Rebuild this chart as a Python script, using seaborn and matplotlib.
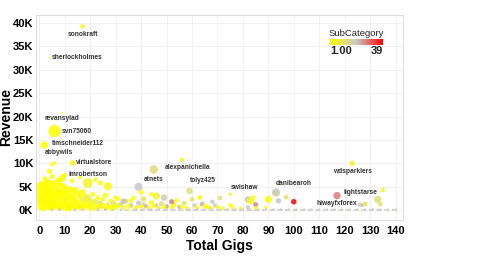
import pandas as pd
import matplotlib
matplotlib.use('Agg')
import matplotlib.pyplot as plt
import seaborn as sns
from matplotlib.colors import LinearSegmentedColormap, Normalize
from matplotlib.cm import ScalarMappable

# labelled sellers
label_names = ['sonokraft', 'sherlockholmes', 'revansylad', 'svn75060', 'timschneider112',
               'abbywils', 'virtualstore', 'imrobertson', 'alexpanichella', 'atnets',
               'tolyz425', 'swishaw', 'danibearoh', 'wdsparklers', 'lightstarse', 'hiwayfxforex']
label_gigs = [17, 4, 9, 6, 2, 6, 13, 9, 56, 45, 59, 75, 93, 123, 135, 127]
label_rev = [39300, 32600, 20800, 16900, 13900, 10100, 10100, 6800, 10800, 8700,
             4100, 3400, 3600, 10000, 4300, 1100]
label_size = [10, 2, 2, 80, 30, 6, 16, 30, 10, 38, 22, 6, 22, 16, 10, 6]
label_sub = [3, 2, 1, 1, 1, 1, 2, 3, 5, 13, 12, 4, 2, 5, 3, 22]

# unlabelled sellers
other_gigs = [0, 0, 0, 0, 0, 0, 1, 1, 1, 1, 1, 1, 1, 2, 2, 2, 2, 2, 2,
              3, 3, 3, 3, 3, 3, 4, 4, 4, 4, 4, 4, 5, 5, 5, 5, 5, 5,
              6, 6, 6, 6, 6, 7, 7, 7, 7, 7, 8, 8, 8, 8, 8, 9, 9, 9, 9,
              10, 10, 10, 10, 11, 11, 11, 12, 12, 12, 12,
              13, 13, 14, 14, 14, 15, 15, 16, 16, 17, 17, 18, 18,
              19, 20, 20, 21, 22, 23, 24, 25, 26, 27, 28, 29, 30, 31, 32,
              34, 36, 37, 39, 41, 42, 44, 46, 48, 50, 53, 55, 57, 61, 64, 66, 69,
              4, 19, 24, 27, 39, 40, 46, 49, 54, 63, 68, 75, 71, 30, 33, 52, 60, 44, 41, 36,
              82, 83, 84, 85, 82, 85, 79, 90, 89, 94, 97, 93, 100, 117, 128, 133, 134, 126,
              10, 13, 16, 22, 5,
              0, 1, 2, 3, 4, 6, 8, 9, 2, 5,
              10, 11, 12, 13, 14, 15, 16, 17, 18, 19, 20, 21, 22, 23, 24, 25, 26, 27, 28, 29,
              30, 31, 33, 35, 38, 40, 43, 45, 47, 49, 52, 56, 58, 62, 65, 67, 70, 72, 76,
              2, 5, 8, 11, 14, 17, 20, 23, 26, 29, 32, 35, 38, 41, 44, 47, 50, 53, 56, 59,
              62, 65, 68, 71, 74, 77, 80, 83, 86, 89, 92, 95, 98, 101, 104, 107, 110, 113,
              116, 119, 122, 125, 128, 131, 134, 137, 140,
              34, 37, 40, 43, 46, 49, 52, 55, 58, 61, 64, 67, 70, 73, 76, 79, 82, 85, 88,
              91, 94, 97, 100, 103, 106, 109, 112, 115, 118, 121, 124, 127, 130, 133, 136, 139]
other_rev = [4800, 3900, 3100, 2200, 1400, 600, 5000, 4200, 3300, 2600, 1800, 900, 300,
             4600, 3800, 2900, 2000, 1200, 500,
             5200, 4100, 3400, 2400, 1500, 700, 4500, 3600, 2800, 1900, 1000, 400,
             5500, 4000, 3000, 2100, 1300, 600,
             4700, 3500, 2500, 1600, 800, 6100, 4300, 3200, 2200, 1100,
             5400, 3700, 2600, 1400, 500, 4100, 2900, 1800, 700,
             4900, 3300, 2000, 1000, 3800, 2400, 1300, 4400, 2800, 1600, 600,
             3100, 1900, 4200, 2500, 1200, 3600, 1700, 2900, 1000, 3800, 2200, 1500, 3000,
             2600, 1200, 2000, 3400, 1800, 2700, 1400, 2300, 3200, 1100, 2000, 1600, 900, 2400, 1300,
             1900, 1000, 2600, 1500, 1200, 800, 1600, 1000, 1400, 800, 1200, 700, 1500, 1000, 1300, 700, 1000,
             8300, 5800, 5800, 5100, 5000, 3800, 3000, 2700, 2100, 2700, 1800, 1100, 2600, 2700, 1900, 1800, 2300, 3400, 2400, 2000,
             2300, 2000, 2700, 1200, 600, 400, 400, 2300, 600, 2000, 2800, 3800, 1800, 3100, 1300, 2300, 1300, 1100,
             7500, 6300, 7000, 6500, 9800,
             5300, 5800, 5600, 6300, 5900, 5800, 6500, 5200, 6800, 7200,
             400, 800, 300, 900, 500, 800, 400, 1000, 600, 900, 500, 1100, 400, 900, 600, 1200, 500, 800, 400, 900,
             500, 1000, 600, 900, 500, 800, 600, 900, 500, 700, 600, 800, 500, 600, 900, 500, 700, 400, 600,
             100, 80, 120, 90, 100, 110, 80, 100, 120, 90, 100, 80, 110, 100, 90, 120, 100, 80, 110, 100,
             90, 100, 120, 80, 100, 110, 90, 100, 80, 120, 100, 90, 110, 100, 80, 100, 120, 90,
             100, 110, 80, 100, 90, 120, 100, 80, 100,
             60, 50, 70, 60, 50, 60, 70, 50, 60, 60, 50, 70, 60, 50, 60, 70, 50, 60, 60,
             50, 70, 60, 50, 60, 70, 50, 60, 60, 50, 70, 60, 50, 60, 70, 50, 60]
other_size = [12, 20, 16, 24, 12, 10, 16, 24, 12, 28, 16, 20, 10, 20, 12, 30, 20, 12, 16,
              12, 28, 16, 20, 24, 12, 16, 24, 12, 28, 16, 12, 20, 16, 24, 12, 20, 12,
              24, 12, 20, 16, 24, 20, 16, 28, 12, 20, 16, 24, 16, 12, 20, 20, 12, 24, 12,
              16, 24, 16, 12, 20, 12, 16, 24, 16, 12, 16,
              20, 12, 28, 16, 12, 16, 20, 12, 16, 24, 16, 20, 12,
              22, 12, 16, 12, 18, 12, 16, 10, 16, 12, 10, 16, 12, 10, 12,
              14, 12, 10, 14, 12, 10, 14, 10, 12, 10, 12, 10, 12, 10, 12, 10, 10,
              14, 50, 14, 34, 34, 14, 28, 22, 10, 12, 10, 8, 12, 10, 16, 14, 12, 10, 16, 10,
              22, 26, 12, 12, 10, 8, 6, 26, 6, 16, 12, 34, 16, 28, 14, 28, 12, 10,
              10, 12, 8, 10, 8,
              16, 12, 20, 14, 18, 12, 14, 16, 10, 12,
              12, 10, 14, 10, 12, 16, 10, 12, 14, 10, 12, 10, 14, 10, 12, 10, 14, 10, 12, 10,
              10, 12, 10, 10, 12, 10, 8, 10, 8, 10, 8, 10, 8, 8, 10, 8, 8, 8, 8,
              4, 4, 4, 4, 4, 4, 4, 4, 4, 4, 4, 4, 4, 4, 4, 4, 4, 4, 4, 4,
              4, 4, 4, 4, 4, 4, 4, 4, 4, 4, 4, 4, 4, 4, 4, 4, 4, 4,
              4, 4, 4, 4, 4, 4, 4, 4, 4,
              3, 3, 3, 3, 3, 3, 3, 3, 3, 3, 3, 3, 3, 3, 3, 3, 3, 3, 3,
              3, 3, 3, 3, 3, 3, 3, 3, 3, 3, 3, 3, 3, 3, 3, 3, 3]
other_sub = [1, 1, 1, 1, 1, 1, 1, 1, 1, 1, 2, 1, 1, 1, 1, 1, 1, 2, 1,
             1, 1, 1, 1, 1, 1, 1, 2, 1, 1, 1, 1, 1, 1, 1, 1, 2, 1,
             1, 1, 1, 1, 1, 1, 1, 1, 2, 1, 1, 1, 1, 1, 1, 1, 1, 1, 3,
             1, 1, 1, 1, 1, 2, 1, 1, 1, 1, 3,
             1, 1, 2, 1, 4, 1, 1, 3, 1, 2, 6, 1, 1,
             8, 1, 5, 1, 7, 1, 10, 1, 2, 12, 1, 9, 14, 1, 16,
             11, 18, 1, 20, 15, 22, 1, 19, 13, 24, 1, 21, 11, 17, 23, 1, 20,
             1, 4, 1, 3, 20, 2, 6, 19, 1, 1, 20, 1, 12, 1, 21, 27, 10, 2, 11, 1,
             20, 3, 2, 27, 20, 1, 1, 2, 1, 20, 11, 20, 39, 27, 10, 12, 11, 20,
             1, 1, 1, 1, 1,
             1, 1, 1, 1, 1, 1, 1, 1, 1, 1,
             1, 1, 2, 1, 1, 1, 3, 1, 1, 1, 2, 1, 1, 1, 4, 1, 1, 1, 2, 1,
             1, 1, 3, 1, 1, 2, 1, 1, 5, 1, 1, 1, 2, 1, 1, 3, 1, 1, 1,
             1, 18, 20, 1, 18, 19, 1, 20, 21, 15, 20, 1, 19, 20, 21, 18, 20, 19, 16, 20,
             21, 20, 18, 19, 20, 21, 20, 19, 20, 18, 21, 20, 19, 20, 20, 18, 19, 20,
             21, 20, 19, 18, 20, 21, 20, 19, 20,
             20, 19, 20, 21, 20, 18, 20, 19, 20, 21, 20, 19, 20, 18, 20, 21, 20, 19, 20,
             18, 20, 21, 19, 20, 20, 18, 20, 21, 19, 20, 20, 18, 20, 21, 20, 19]

# label placement relative to its point, in pixels (right, down)
label_offsets = {
    'sonokraft': (0, 8), 'sherlockholmes': (28, 0), 'revansylad': (0, 6),
    'svn75060': (22, 0), 'timschneider112': (34, -2), 'abbywils': (4, -10),
    'virtualstore': (22, 0), 'imrobertson': (26, -4), 'alexpanichella': (6, 8),
    'atnets': (0, 10), 'tolyz425': (13, -10), 'swishaw': (14, -7),
    'danibearoh': (18, -10), 'wdsparklers': (0, 8), 'lightstarse': (-22, 2),
    'hiwayfxforex': (-26, -2),
}

df = pd.DataFrame({
    'gigs': label_gigs + other_gigs,
    'revenue': label_rev + other_rev,
    'size': label_size + other_size,
    'SubCategory': label_sub + other_sub,
})

sns.set_theme(style='whitegrid')
plt.rcParams['font.family'] = ['Liberation Sans', 'DejaVu Sans']

cmap = LinearSegmentedColormap.from_list('ygr', ['#FFFF00', '#C8C8C8', '#FF0000'])

fig = plt.figure(figsize=(4.79, 2.59), dpi=100)
ax = fig.add_axes([0.0752, 0.1506, 0.766, 0.7915])

sns.scatterplot(data=df, x='gigs', y='revenue', hue='SubCategory', size='size',
                sizes=(df['size'].min(), df['size'].max()), palette=cmap, hue_norm=(1, 39),
                alpha=0.85, edgecolor='none', legend=False, ax=ax)

for name, g, r in zip(label_names, label_gigs, label_rev):
    dx, dy = label_offsets[name]
    ax.annotate(name, (g, r), xytext=(dx, -dy), textcoords='offset pixels',
                ha='center', va='center', fontsize=4.8, fontweight='bold', color='#333333')

ax.set_xlim(-1.3, 142.9)
ax.set_ylim(-2100, 41700)
ax.set_xticks(range(0, 141, 10))
ax.set_yticks(range(0, 40001, 5000))
ax.set_yticklabels([f'{v // 1000}K' for v in range(0, 40001, 5000)])
ax.tick_params(axis='both', labelsize=8, length=0, colors='black')
ax.tick_params(axis='y', pad=2)
ax.tick_params(axis='x', pad=4)
for lab in ax.get_xticklabels() + ax.get_yticklabels():
    lab.set_fontweight('bold')
ax.grid(color='#EFEFEF', linewidth=0.6)
for sp in ax.spines.values():
    sp.set_color('#DDDDDD')
    sp.set_linewidth(0.8)

ax.set_xlabel('Total Gigs', fontsize=10, fontweight='bold', color='black')
ax.set_ylabel('Revenue', fontsize=10, fontweight='bold', color='black')
ax.xaxis.set_label_coords(0.5, -0.095)
ax.yaxis.set_label_coords(-0.062, 0.5)

# colour bar legend
cax = fig.add_axes([330 / 479, 1 - 45 / 259, 53 / 479, 6 / 259])
cb = fig.colorbar(ScalarMappable(norm=Normalize(1, 39), cmap=cmap), cax=cax, orientation='horizontal')
cb.outline.set_visible(False)
cb.set_ticks([1, 39])
cb.set_ticklabels(['1.00', '39'])
cax.tick_params(length=0, labelsize=8, pad=1)
tl = cax.get_xticklabels()
tl[0].set_horizontalalignment('left')
tl[1].set_horizontalalignment('right')
for lab in tl:
    lab.set_fontweight('bold')
cax.set_title('SubCategory', fontsize=6.8, pad=2)

fig.savefig('out.png', dpi=100)
